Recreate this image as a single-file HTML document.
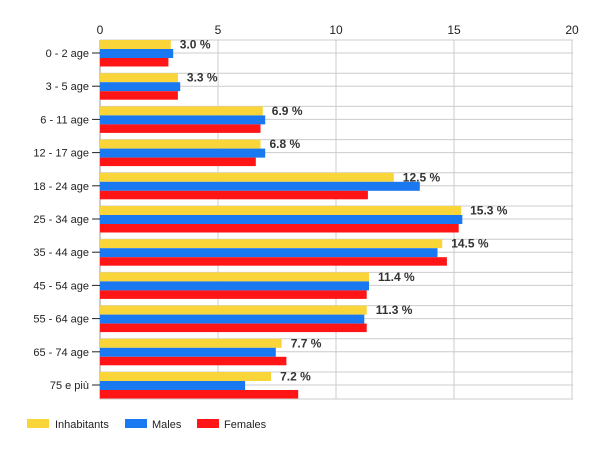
<!DOCTYPE html>
<html><head><meta charset="utf-8"><style>html,body{margin:0;padding:0;background:#fff}svg{display:block}</style></head>
<body>
<svg width="600" height="450" xmlns="http://www.w3.org/2000/svg" font-family="Liberation Sans, Arial, sans-serif">
<g stroke="#ccc">
<line x1="218" y1="40" x2="218" y2="399"/><line x1="336" y1="40" x2="336" y2="399"/><line x1="454" y1="40" x2="454" y2="399"/><line x1="572" y1="40" x2="572" y2="399"/>
<line x1="100" y1="40" x2="573" y2="40"/><line x1="100" y1="53" x2="573" y2="53"/>
<line x1="100" y1="73.2" x2="573" y2="73.2"/><line x1="100" y1="86.2" x2="573" y2="86.2"/>
<line x1="100" y1="106.4" x2="573" y2="106.4"/><line x1="100" y1="119.4" x2="573" y2="119.4"/>
<line x1="100" y1="139.6" x2="573" y2="139.6"/><line x1="100" y1="152.6" x2="573" y2="152.6"/>
<line x1="100" y1="172.8" x2="573" y2="172.8"/><line x1="100" y1="185.8" x2="573" y2="185.8"/>
<line x1="100" y1="206" x2="573" y2="206"/><line x1="100" y1="219" x2="573" y2="219"/>
<line x1="100" y1="239.2" x2="573" y2="239.2"/><line x1="100" y1="252.2" x2="573" y2="252.2"/>
<line x1="100" y1="272.4" x2="573" y2="272.4"/><line x1="100" y1="285.4" x2="573" y2="285.4"/>
<line x1="100" y1="305.6" x2="573" y2="305.6"/><line x1="100" y1="318.6" x2="573" y2="318.6"/>
<line x1="100" y1="338.8" x2="573" y2="338.8"/><line x1="100" y1="351.8" x2="573" y2="351.8"/>
<line x1="100" y1="372" x2="573" y2="372"/><line x1="100" y1="385" x2="573" y2="385"/>
<line x1="100" y1="399" x2="573" y2="399"/>
</g>
<line x1="100" y1="40" x2="100" y2="399" stroke="#999"/>
<g font-size="12" text-anchor="middle" fill="#222">
<text x="100" y="34">0</text><text x="218" y="34">5</text><text x="336" y="34">10</text><text x="454" y="34">15</text><text x="572" y="34">20</text>
</g>
<g fill="#fad53a">
<rect x="100" y="40" width="70.8" height="9"/><rect x="100" y="73.2" width="77.9" height="9"/><rect x="100" y="106.4" width="162.8" height="9"/><rect x="100" y="139.6" width="160.5" height="9"/><rect x="100" y="172.8" width="293.8" height="9"/><rect x="100" y="206" width="361.1" height="9"/><rect x="100" y="239.2" width="342.2" height="9"/><rect x="100" y="272.4" width="269" height="9"/><rect x="100" y="305.6" width="266.7" height="9"/><rect x="100" y="338.8" width="181.7" height="9"/><rect x="100" y="372" width="171.1" height="9"/>
</g>
<g fill="#1a78f0">
<rect x="100" y="49" width="73.2" height="9"/><rect x="100" y="82.2" width="80.2" height="9"/><rect x="100" y="115.4" width="165.2" height="9"/><rect x="100" y="148.6" width="165.2" height="9"/><rect x="100" y="181.8" width="319.8" height="9"/><rect x="100" y="215" width="362.3" height="9"/><rect x="100" y="248.2" width="337.5" height="9"/><rect x="100" y="281.4" width="269" height="9"/><rect x="100" y="314.6" width="264.3" height="9"/><rect x="100" y="347.8" width="175.8" height="9"/><rect x="100" y="381" width="145.1" height="9"/>
</g>
<g fill="#ff1515">
<rect x="100" y="58" width="68.4" height="8.5"/><rect x="100" y="91.2" width="77.9" height="8.5"/><rect x="100" y="124.4" width="160.5" height="8.5"/><rect x="100" y="157.6" width="155.8" height="8.5"/><rect x="100" y="190.8" width="267.9" height="8.5"/><rect x="100" y="224" width="358.7" height="8.5"/><rect x="100" y="257.2" width="346.9" height="8.5"/><rect x="100" y="290.4" width="266.7" height="8.5"/><rect x="100" y="323.6" width="266.7" height="8.5"/><rect x="100" y="356.8" width="186.4" height="8.5"/><rect x="100" y="390" width="198.2" height="8.5"/>
</g>
<g stroke="#222">
<line x1="92" y1="53" x2="100" y2="53"/><line x1="92" y1="86.2" x2="100" y2="86.2"/><line x1="92" y1="119.4" x2="100" y2="119.4"/><line x1="92" y1="152.6" x2="100" y2="152.6"/><line x1="92" y1="185.8" x2="100" y2="185.8"/><line x1="92" y1="219" x2="100" y2="219"/><line x1="92" y1="252.2" x2="100" y2="252.2"/><line x1="92" y1="285.4" x2="100" y2="285.4"/><line x1="92" y1="318.6" x2="100" y2="318.6"/><line x1="92" y1="351.8" x2="100" y2="351.8"/><line x1="92" y1="385" x2="100" y2="385"/>
</g>
<g font-size="11" text-anchor="end" fill="#222">
<text x="89" y="57">0 - 2 age</text><text x="89" y="90.2">3 - 5 age</text><text x="89" y="123.4">6 - 11 age</text><text x="89" y="156.6">12 - 17 age</text><text x="89" y="189.8">18 - 24 age</text><text x="89" y="223">25 - 34 age</text><text x="89" y="256.2">35 - 44 age</text><text x="89" y="289.4">45 - 54 age</text><text x="89" y="322.6">55 - 64 age</text><text x="89" y="355.8">65 - 74 age</text><text x="89" y="389">75 e più</text>
</g>
<g font-size="12" font-weight="bold" fill="#333">
<text x="179.8" y="48.5">3.0 %</text><text x="186.9" y="81.7">3.3 %</text><text x="271.8" y="114.9">6.9 %</text><text x="269.5" y="148.1">6.8 %</text><text x="402.8" y="181.3">12.5 %</text><text x="470.1" y="214.5">15.3 %</text><text x="451.2" y="247.7">14.5 %</text><text x="378" y="280.9">11.4 %</text><text x="375.7" y="314.1">11.3 %</text><text x="290.7" y="347.3">7.7 %</text><text x="280.1" y="380.5">7.2 %</text>
</g>
<rect x="27" y="419" width="22" height="9" fill="#fad53a"/><text x="55" y="428" font-size="11" fill="#222">Inhabitants</text>
<rect x="125" y="419" width="22" height="9" fill="#1a78f0"/><text x="152" y="428" font-size="11" fill="#222">Males</text>
<rect x="197" y="419" width="22" height="9" fill="#ff1515"/><text x="224" y="428" font-size="11" fill="#222">Females</text>
</svg>
</body></html>
